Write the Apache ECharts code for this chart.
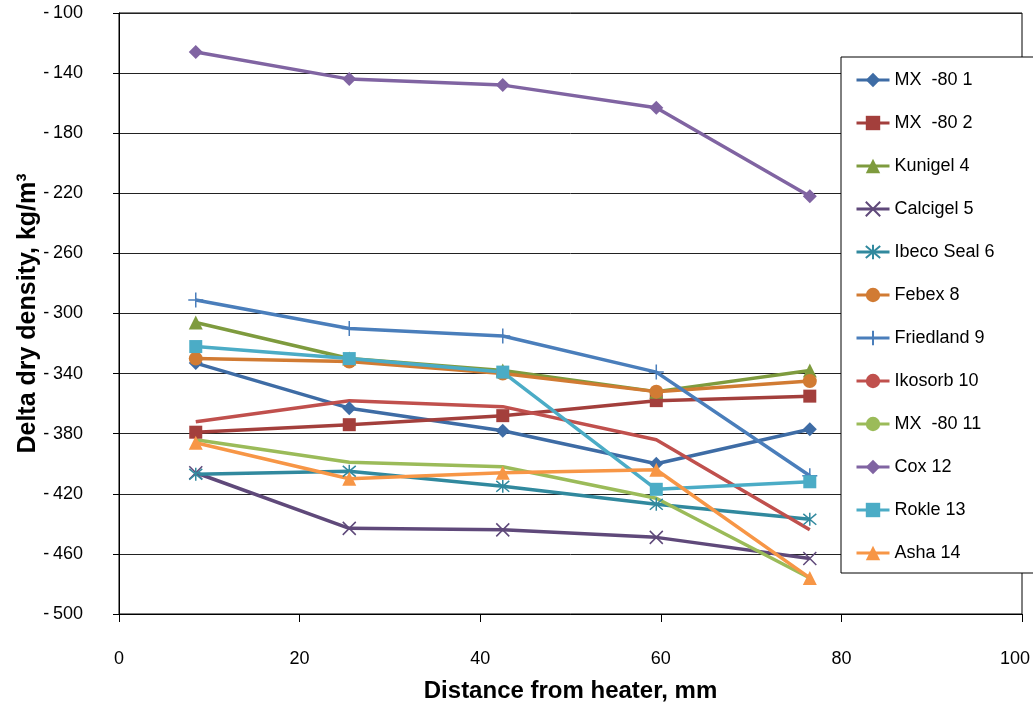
<!DOCTYPE html>
<html>
<head>
<meta charset="utf-8">
<script src="https://cdn.jsdelivr.net/npm/echarts@6/dist/echarts.min.js"></script>
<style>
html,body{margin:0;padding:0;background:#fff;}
#chart{width:1033px;height:709px;}
</style>
</head>
<body>
<div id="chart"></div>
<script>
const distances = [8.5, 25.5, 42.5, 59.5, 76.5];
const seriesNames = ['MX  -80 1','MX  -80 2','Kunigel 4','Calcigel 5','Ibeco Seal 6','Febex 8','Friedland 9','Ikosorb 10','MX  -80 11','Cox 12','Rokle 13','Asha 14'];
const mx80_1 = [-333, -363, -378, -400, -377];
const mx80_2 = [-379, -374, -368, -358, -355];
const kunigel4 = [-306, -330, -338, -352, -338];
const calcigel5 = [-406, -443, -444, -449, -463];
const ibecoSeal6 = [-407, -405, -415, -427, -437];
const febex8 = [-330, -332, -340, -352, -345];
const friedland9 = [-291, -310, -315, -339, -408];
const ikosorb10 = [-372, -358, -362, -384, -444];
const mx80_11 = [-384, -399, -402, -423, -476];
const cox12 = [-126, -144, -148, -163, -222];
const rokle13 = [-322, -330, -339, -417, -412];
const asha14 = [-386, -410, -406, -404, -476];
const yTicks = [-500, -460, -420, -380, -340, -300, -260, -220, -180, -140, -100];
const xTicks = [0, 20, 40, 60, 80, 100];

const values = [mx80_1, mx80_2, kunigel4, calcigel5, ibecoSeal6, febex8, friedland9, ikosorb10, mx80_11, cox12, rokle13, asha14];
const colors = ['#3E6CA5','#A33F3C','#7E9B3E','#5F497A','#31899E','#D17B33','#4A7EBB','#C0504D','#9BBB59','#8064A2','#4BACC6','#F79646'];
const X_PATH = 'path://M0,0L10,10M10,0L0,10';
const AST_PATH = 'path://M0,0L10,10M10,0L0,10M5,-1L5,11';
const PLUS_PATH = 'path://M5,0L5,10M0,5L10,5';
const symbols = ['diamond','rect','triangle',X_PATH,AST_PATH,'circle',PLUS_PATH,'none','none','diamond','rect','triangle'];
const sizes = [14,13,14,13,13,14,15,0,0,14,13,14];

const series = seriesNames.map((name, i) => {
  const c = colors[i];
  const stroked = (symbols[i] === X_PATH || symbols[i] === AST_PATH || symbols[i] === PLUS_PATH);
  return {
    name: name,
    type: 'line',
    data: distances.map((d, j) => [d, values[i][j]]),
    symbol: symbols[i],
    symbolSize: sizes[i],
    showSymbol: symbols[i] !== 'none',
    color: c,
    lineStyle: {color: c, width: 3.5},
    itemStyle: stroked ? {color: 'rgba(0,0,0,0)', borderColor: c, borderWidth: 1.5} : {color: c, borderWidth: 0},
    emphasis: {disabled: true},
    animation: false
  };
});

const FONT = 'Liberation Sans, Arial';
const chart = echarts.init(document.getElementById('chart'), null, {renderer: 'canvas'});
chart.setOption({
  backgroundColor: '#fff',
  animation: false,
  grid: {left: 119, top: 13, right: 11, bottom: 95, show: true, borderColor: '#000', borderWidth: 1,
    containLabel: false, outerBoundsMode: 'none'},
  xAxis: {
    type: 'value', min: xTicks[0], max: xTicks[xTicks.length - 1], interval: 20,
    name: 'Distance from heater, mm', nameLocation: 'middle', nameGap: 65,
    nameTextStyle: {fontFamily: FONT, fontWeight: 'bold', fontSize: 24, color: '#000'},
    axisLine: {show: true, onZero: false, lineStyle: {color: '#000', width: 1}},
    axisTick: {show: true, length: 8, lineStyle: {color: '#000'}},
    axisLabel: {margin: 36, fontFamily: FONT, fontSize: 18, color: '#000',
      formatter: v => v === xTicks[xTicks.length - 1] ? '{r|' + v + '}' : String(v),
      rich: {r: {fontFamily: FONT, fontSize: 18, color: '#000', padding: [0, 14, 0, 0]}}},
    splitLine: {show: false}
  },
  yAxis: {
    type: 'value', min: yTicks[0], max: yTicks[yTicks.length - 1], interval: 40,
    name: 'Delta dry density, kg/m³', nameLocation: 'middle', nameGap: 78, nameRotate: 90,
    nameMoveOverlap: false,
    nameTextStyle: {fontFamily: FONT, fontWeight: 'bold', fontSize: 25, color: '#000'},
    axisLine: {show: true, onZero: false, lineStyle: {color: '#000', width: 1}},
    axisTick: {show: true, length: 6, lineStyle: {color: '#000'}},
    axisLabel: {margin: 36, fontFamily: FONT, fontSize: 18, color: '#000',
      formatter: v => '-\u2009' + Math.abs(v)},
    splitLine: {show: true, lineStyle: {color: '#222', width: 1}}
  },
  legend: {
    orient: 'vertical', left: 841, top: 57,
    data: seriesNames,
    itemWidth: 33, itemHeight: 18, itemGap: 25,
    padding: [14, 60, 11, 14],
    lineStyle: {width: 3},
    backgroundColor: '#fff', borderColor: '#000', borderWidth: 1,
    textStyle: {fontFamily: FONT, fontSize: 18, color: '#000'}
  },
  series: series
});
</script>
</body>
</html>
